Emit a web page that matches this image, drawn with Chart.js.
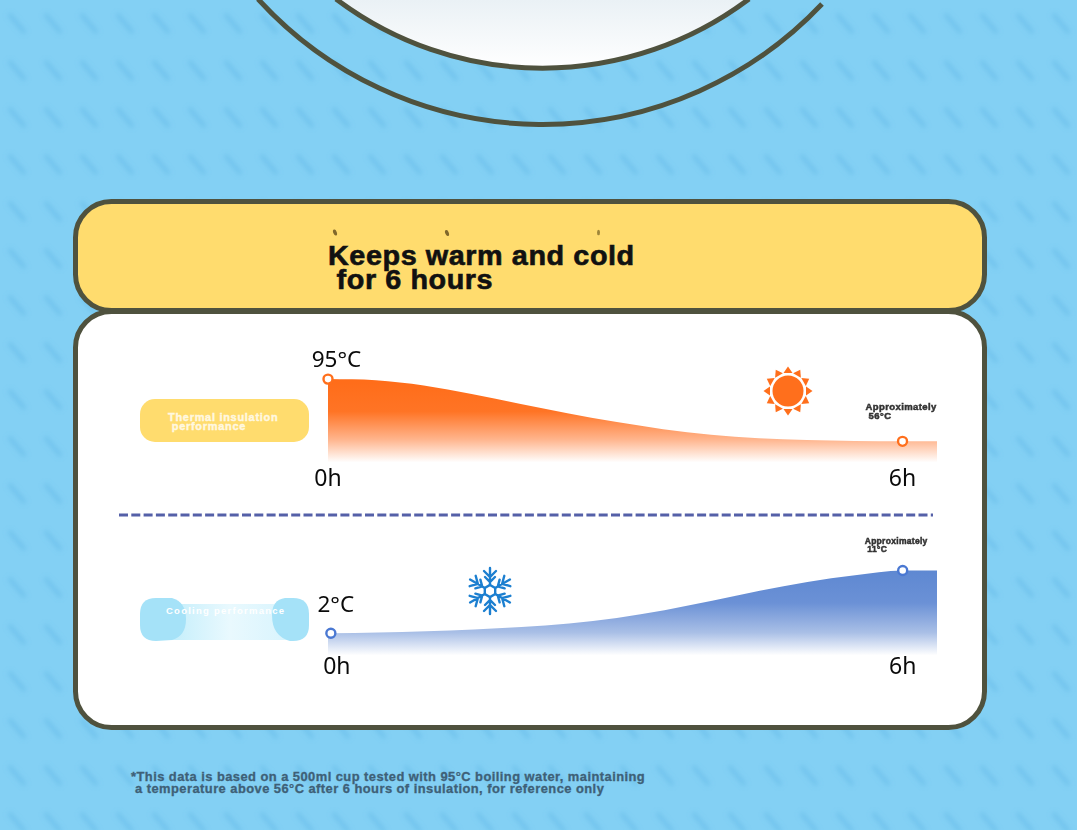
<!DOCTYPE html>
<html>
<head>
<meta charset="utf-8">
<title>Keeps warm and cold</title>
<script src="https://cdn.jsdelivr.net/npm/chart.js@4"></script>
<style>
  html, body { margin: 0; padding: 0; }
  body { width: 1077px; height: 830px; position: relative; overflow: hidden; background: #83d0f4; }
  #art { position: absolute; left: 0; top: 0; }
  .chartBox { position: absolute; left: 300px; width: 660px; }
  .txt { position: absolute; font-family: "Liberation Sans", Arial, sans-serif; font-weight: 700; white-space: pre; transform-origin: 0 0; }
  #title { left: 328px; top: 243.5px; font-size: 27px; line-height: 24.5px; color: #111; letter-spacing: 0.55px; -webkit-text-stroke: 0.6px #111; transform: scaleX(1.065); }
  #note { left: 131px; top: 772px; font-size: 12px; line-height: 11.5px; color: #3e6077; letter-spacing: 0.42px; -webkit-text-stroke: 0.3px #3e6077; transform: scaleX(1.075); }
  #hotLabel { left: 168px; top: 413px; font-size: 11px; line-height: 9px; color: #fff8e0; letter-spacing: 0.7px; -webkit-text-stroke: 0.4px #fff8e0; }
  #coldLabel { left: 166px; top: 606px; font-size: 9.5px; line-height: 10px; color: #fff; letter-spacing: 1.25px; }
</style>
</head>
<body>
<svg id="art" width="1077" height="830" xmlns="http://www.w3.org/2000/svg">
  <defs>
    <filter id="soft" x="-60%" y="-60%" width="220%" height="220%"><feGaussianBlur stdDeviation="2.4"/></filter>
    <pattern id="stripes" width="36" height="47" patternUnits="userSpaceOnUse">
      <line x1="9" y1="14" x2="25" y2="33" stroke="#62b8e8" stroke-opacity="0.5" stroke-width="5" filter="url(#soft)"/>
    </pattern>
    <linearGradient id="dish" x1="0" y1="0" x2="0" y2="1">
      <stop offset="0" stop-color="#eaf1f5"/>
      <stop offset="1" stop-color="#ffffff"/>
    </linearGradient>
    <linearGradient id="coldPill" x1="0" y1="0" x2="1" y2="0">
      <stop offset="0" stop-color="#c4eefb"/>
      <stop offset="0.5" stop-color="#e9f9fe"/>
      <stop offset="1" stop-color="#d8f4fd"/>
    </linearGradient>
  </defs>
  <rect width="1077" height="830" fill="url(#stripes)"/>

  <!-- cup seen from above, cut by the top edge -->
  <path d="M 337 0 A 343 343 0 0 0 748 0 Z" fill="url(#dish)"/>
  <path d="M 336 -1 A 343 343 0 0 0 749 -1" fill="none" stroke="#4f523e" stroke-width="5"/>
  <path d="M 258 -1 A 385 385 0 0 0 822 4" fill="none" stroke="#4f523e" stroke-width="5"/>

  <!-- cards -->
  <rect x="75.5" y="201.5" width="909" height="109" rx="36" fill="#ffdc6e" stroke="#4f523e" stroke-width="5"/>
  <rect x="75.5" y="311.5" width="909" height="416" rx="36" fill="#ffffff" stroke="#4f523e" stroke-width="5"/>
  <ellipse cx="335" cy="232.5" rx="1.8" ry="3.2" fill="#6b5320" opacity="0.85" transform="rotate(-20 335 232.5)"/>
  <ellipse cx="447" cy="233" rx="1.8" ry="3.2" fill="#6b5320" opacity="0.85" transform="rotate(-20 447 233)"/>
  <ellipse cx="598.5" cy="232.5" rx="1.5" ry="2.8" fill="#7f6a28" opacity="0.75"/>

  <!-- side pills -->
  <rect x="140" y="399" width="169" height="43" rx="15" fill="#ffdc6e"/>
  <rect x="170" y="604" width="120" height="36" fill="url(#coldPill)"/>
  <path d="M 156 598 H 172 Q 186 602 186 619 Q 186 636 172 640 L 156 641 Q 140 641 140 625 V 614 Q 140 598 156 598 Z" fill="#a5e2f8"/>
  <path d="M 293 598 H 285 Q 272 600 272 615 Q 272 636 290 641 H 293 Q 309 641 309 625 V 614 Q 309 598 293 598 Z" fill="#a5e2f8"/>

  <!-- divider -->
  <line x1="119" y1="515" x2="933" y2="515" stroke="#5560a8" stroke-width="3" stroke-dasharray="9 3.3"/>

  <!-- sun -->
  <g transform="translate(788 391)" fill="#ff6f1c">
    <circle r="15.5"/>
    <path d="M -4.5 -18 L 4.5 -18 L 0 -24.5 Z"/>
    <path d="M -4.5 -18 L 4.5 -18 L 0 -24.5 Z" transform="rotate(30)"/>
    <path d="M -4.5 -18 L 4.5 -18 L 0 -24.5 Z" transform="rotate(60)"/>
    <path d="M -4.5 -18 L 4.5 -18 L 0 -24.5 Z" transform="rotate(90)"/>
    <path d="M -4.5 -18 L 4.5 -18 L 0 -24.5 Z" transform="rotate(120)"/>
    <path d="M -4.5 -18 L 4.5 -18 L 0 -24.5 Z" transform="rotate(150)"/>
    <path d="M -4.5 -18 L 4.5 -18 L 0 -24.5 Z" transform="rotate(180)"/>
    <path d="M -4.5 -18 L 4.5 -18 L 0 -24.5 Z" transform="rotate(210)"/>
    <path d="M -4.5 -18 L 4.5 -18 L 0 -24.5 Z" transform="rotate(240)"/>
    <path d="M -4.5 -18 L 4.5 -18 L 0 -24.5 Z" transform="rotate(270)"/>
    <path d="M -4.5 -18 L 4.5 -18 L 0 -24.5 Z" transform="rotate(300)"/>
    <path d="M -4.5 -18 L 4.5 -18 L 0 -24.5 Z" transform="rotate(330)"/>
  </g>

  <!-- snowflake -->
  <g transform="translate(490 591)" stroke="#1c7fd0" stroke-width="2.4" fill="none" stroke-linecap="round">
    <path d="M 0 -6 V -23 M -6 -20 L 0 -14 L 6 -20 M -5 -14 L 0 -9 L 5 -14"/>
    <path d="M 0 -6 V -23 M -6 -20 L 0 -14 L 6 -20 M -5 -14 L 0 -9 L 5 -14" transform="rotate(60)"/>
    <path d="M 0 -6 V -23 M -6 -20 L 0 -14 L 6 -20 M -5 -14 L 0 -9 L 5 -14" transform="rotate(120)"/>
    <path d="M 0 -6 V -23 M -6 -20 L 0 -14 L 6 -20 M -5 -14 L 0 -9 L 5 -14" transform="rotate(180)"/>
    <path d="M 0 -6 V -23 M -6 -20 L 0 -14 L 6 -20 M -5 -14 L 0 -9 L 5 -14" transform="rotate(240)"/>
    <path d="M 0 -6 V -23 M -6 -20 L 0 -14 L 6 -20 M -5 -14 L 0 -9 L 5 -14" transform="rotate(300)"/>
    <path d="M 0 -6 L 5.2 -3 V 3 L 0 6 L -5.2 3 V -3 Z"/>
  </g>
</svg>

<div class="txt" id="title">Keeps warm and cold
 for 6 hours</div>
<div class="txt" id="hotLabel">Thermal insulation
 performance</div>
<div class="txt" id="coldLabel">Cooling performance</div>
<div class="txt" id="note">*This data is based on a 500ml cup tested with 95°C boiling water, maintaining
 a temperature above 56°C after 6 hours of insulation, for reference only</div>

<div class="chartBox" style="top:350px;height:147px"><canvas id="hotChart" width="660" height="147"></canvas></div>
<div class="chartBox" style="top:525px;height:154px"><canvas id="coldChart" width="660" height="154"></canvas></div>

<script>
// hours after filling, the curves carry on a little past the 6h marker
const hotHours = [0, 0.5, 1, 1.5, 2, 2.5, 3, 3.5, 4, 4.5, 5, 5.5, 6, 6.36];
const hotTemps = [95, 94.3, 91, 85.6, 79.6, 73.6, 68.2, 63.6, 60.2, 58, 56.8, 56.2, 56, 56];
const coldHours = [-0.03, 0, 0.5, 1, 1.5, 2, 2.5, 3, 3.5, 4, 4.5, 5, 5.5, 6, 6.36];
const coldTemps = [2, 2, 2.1, 2.3, 2.55, 2.9, 3.4, 4.2, 5.3, 6.65, 8.1, 9.35, 10.3, 11, 11];

const tickHours = [0, 6];
const hotTickLabels = ["0h", "6h"];
const coldTickLabels = ["  0h", "6h"]; // the cold 0h sits a bit to the right in the original

const hotNotes = ["95°C", "Approximately\n 56°C"];
const coldNotes = ["2°C", "Approximately\n 11°C"];

const tickFont = { family: "'Noto Sans', sans-serif", size: 23 };

// temperature captions next to the two marked points
const notesPlugin = {
  id: "notes",
  afterDatasetsDraw(chart, args, opts) {
    const ctx = chart.ctx;
    const xs = chart.scales.x;
    const ys = chart.scales.y;
    ctx.save();
    ctx.textBaseline = "middle";

    ctx.font = "22.5px 'Noto Sans', sans-serif";
    ctx.fillStyle = "#0a0a0a";
    ctx.textAlign = "center";
    ctx.fillText(opts.notes[0], xs.getPixelForValue(0) + opts.startDx, ys.getPixelForValue(opts.startTemp) + opts.startDy);

    ctx.font = "bold " + opts.smallSize + "px 'Liberation Sans', sans-serif";
    ctx.letterSpacing = opts.smallSpacing;
    ctx.fillStyle = "#333";
    ctx.textAlign = "left";
    const lines = opts.notes[1].split("\n");
    const x = xs.getPixelForValue(6) + opts.endDx;
    const y = ys.getPixelForValue(opts.endTemp) + opts.endDy;
    ctx.strokeStyle = "#333";
    ctx.lineWidth = 0.5;
    lines.forEach((line, i) => {
      ctx.fillText(line, x, y + i * opts.smallLine);
      ctx.strokeText(line, x, y + i * opts.smallLine);
    });
    ctx.restore();
  }
};

function makeChart(id, hours, temps, cfg) {
  const ctx = document.getElementById(id).getContext("2d");
  return new Chart(ctx, {
    type: "line",
    plugins: [notesPlugin],
    data: {
      datasets: [{
        data: hours.map((h, i) => ({ x: h, y: temps[i] })),
        borderWidth: 0,
        cubicInterpolationMode: "monotone",
        fill: "start",
        clip: false,
        backgroundColor: (c) => {
          const area = c.chart.chartArea;
          if (!area) return cfg.stops[0];
          const g = c.chart.ctx.createLinearGradient(0, area.top, 0, area.bottom);
          cfg.stops.forEach((s, i) => g.addColorStop(cfg.stopAt[i], s));
          return g;
        },
        pointRadius: (c) => (tickHours.includes(hours[c.dataIndex]) ? 4.5 : 0),
        pointBackgroundColor: "#fff",
        pointBorderColor: cfg.pointColor,
        pointBorderWidth: 2.4,
      }],
    },
    options: {
      responsive: false,
      animation: false,
      layout: { padding: { left: 28, right: 23, top: cfg.padTop, bottom: 0 } },
      plugins: {
        legend: { display: false },
        tooltip: { enabled: false },
        notes: cfg.notes,
      },
      scales: {
        x: {
          type: "linear",
          min: cfg.xMin,
          max: 6.36,
          border: { display: false },
          grid: { display: false, drawTicks: false },
          afterBuildTicks: (axis) => { axis.ticks = tickHours.map((v) => ({ value: v })); },
          ticks: {
            autoSkip: false,
            maxRotation: 0,
            font: tickFont,
            color: "#0a0a0a",
            padding: cfg.tickPad,
            callback: (v) => cfg.tickLabels[tickHours.indexOf(v)],
          },
        },
        y: { display: false, min: cfg.yMin, max: cfg.yMax },
      },
    },
  });
}

makeChart("hotChart", hotHours, hotTemps, {
  xMin: 0,
  yMin: 42.8,
  yMax: 100.7,
  padTop: 20,
  tickPad: 3.5,
  tickLabels: hotTickLabels,
  pointColor: "#ff6f1c",
  stops: ["#ff6a15", "#ff7425", "#ffb48c", "#ffffff"],
  stopAt: [0, 0.45, 0.75, 1],
  notes: {
    notes: hotNotes, startTemp: 95, endTemp: 56,
    startDx: 8.5, startDy: -19, endDx: -37, endDy: -34,
    smallSize: 9.5, smallSpacing: "0.4px", smallLine: 9,
  },
});

makeChart("coldChart", coldHours, coldTemps, {
  xMin: -0.03,
  yMin: -1.17,
  yMax: 12.5,
  padTop: 35,
  tickPad: -2,
  tickLabels: coldTickLabels,
  pointColor: "#4a78d2",
  stops: ["#5a85d0", "#6b91d6", "#a9bfe6", "#ffffff"],
  stopAt: [0, 0.45, 0.76, 1],
  notes: {
    notes: coldNotes, startTemp: 2, endTemp: 11,
    startDx: 5, startDy: -27.5, endDx: -38, endDy: -29,
    smallSize: 8.5, smallSpacing: "0.3px", smallLine: 8,
  },
});
</script>
</body>
</html>
